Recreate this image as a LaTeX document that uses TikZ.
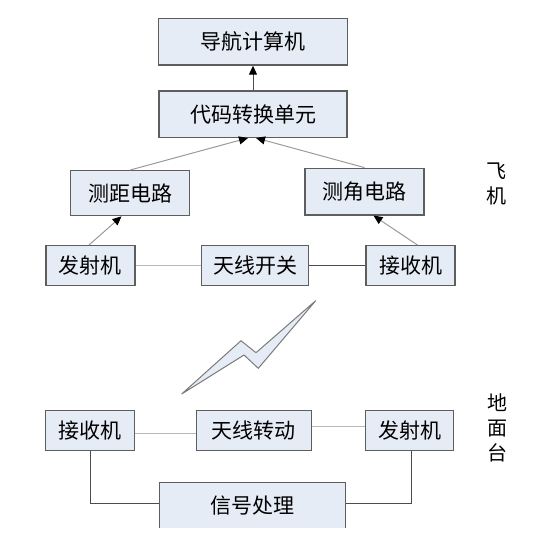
\documentclass[tikz,border=0pt]{standalone}
\usepackage{fontspec}
\setmainfont{Noto Sans CJK SC}
\usetikzlibrary{arrows.meta}

\definecolor{boxfill}{HTML}{E6ECF6}
\definecolor{boxline}{HTML}{5E5E5E}
\definecolor{linkdark}{HTML}{4C4C4C}
\definecolor{linkmid}{HTML}{9A9A9A}
\definecolor{linklight}{HTML}{B8B8B8}
\definecolor{boltline}{HTML}{7A7A7A}

\begin{document}
\begin{tikzpicture}[x=1pt, y=-1pt,
    block/.style={draw=boxline, fill=boxfill, line width=1.3pt, inner sep=0pt,
        font=\fontsize{21}{24}\selectfont},
    sidetext/.style={align=center, inner sep=0pt, font=\fontsize{20}{25}\selectfont},
    uparrow/.style={line width=1pt, -{Triangle[length=9pt, width=8pt, color=black]}}]
    \useasboundingbox (0,0) rectangle (559,537);
    \clip (0,0) rectangle (559,527);

    % Airborne part
    \node[block, minimum width=189pt, minimum height=46.7pt] (dh) at (253,41.7) {导航计算机};
    \node[block, minimum width=188pt, minimum height=46.3pt] (dm) at (253,114.2) {代码转换单元};
    \node[block, minimum width=118.5pt, minimum height=45pt] (cj) at (130,193.2) {测距电路};
    \node[block, minimum width=119pt, minimum height=46.7pt] (cjiao) at (364.5,191.6) {测角电路};
    \node[block, minimum width=89pt, minimum height=40pt] (fs1) at (90.4,265.7) {发射机};
    \node[block, minimum width=106.4pt, minimum height=40pt] (kg) at (255,265.7) {天线开关};
    \node[block, minimum width=89pt, minimum height=40pt] (js1) at (410.5,265.7) {接收机};
    \node[sidetext] (fj) at (496.5,184.2) {飞\\机};

    % Ground part
    \node[block, minimum width=89pt, minimum height=40pt] (js2) at (90.2,430.5) {接收机};
    \node[block, minimum width=114.7pt, minimum height=40pt] (zd) at (253.8,430.5) {天线转动};
    \node[block, minimum width=88pt, minimum height=40pt] (fs2) at (409.5,430.5) {发射机};
    \node[block, minimum width=186.4pt, minimum height=46pt] (xh) at (252.5,505.3) {信号处理};
    \node[sidetext] (dmt) at (497,427.5) {地\\面\\台};

    % Radio link
    \draw[draw=boltline, fill=boxfill, line width=1pt, line join=round]
        (315.7,300.7) -- (256,352.7) -- (241,340.7) -- (181.7,394)
        -- (244,355) -- (258.3,368.3) -- cycle;

    % Arrows
    \draw[uparrow, color=linkdark] (dm.north) -- (dh.south); % code unit to computer
    \draw[uparrow, color=linkmid] (cj.north) -- ([xshift=-5pt]dm.south); % range to code unit
    \draw[uparrow, color=linkmid] (cjiao.north) -- ([xshift=3pt]dm.south); % angle to code unit
    \draw[uparrow, color=linkmid] ([xshift=-1.5pt]fs1.north) -- ([xshift=-8.5pt]cj.south); % transmitter to range
    \draw[uparrow, color=linkmid] ([xshift=7pt]js1.north) -- ([xshift=9pt]cjiao.south); % receiver to angle

    % Plain links
    \draw[color=linklight, line width=1pt] (fs1.east) -- (kg.west);
    \draw[color=linkdark, line width=1.2pt] (kg.east) -- (js1.west);
    \draw[color=linklight, line width=1pt] ([yshift=-2.8pt]js2.east) -- ([yshift=-2.8pt]zd.west);
    \draw[color=linklight, line width=1pt] ([yshift=3.8pt]zd.east) -- ([yshift=3.8pt]fs2.west);
    \draw[color=linkdark, line width=1.3pt] (js2.south) |- ([yshift=2pt]xh.west);
    \draw[color=linkdark, line width=1.3pt] ([xshift=2pt]fs2.south) |- ([yshift=2pt]xh.east);
\end{tikzpicture}
\end{document}
